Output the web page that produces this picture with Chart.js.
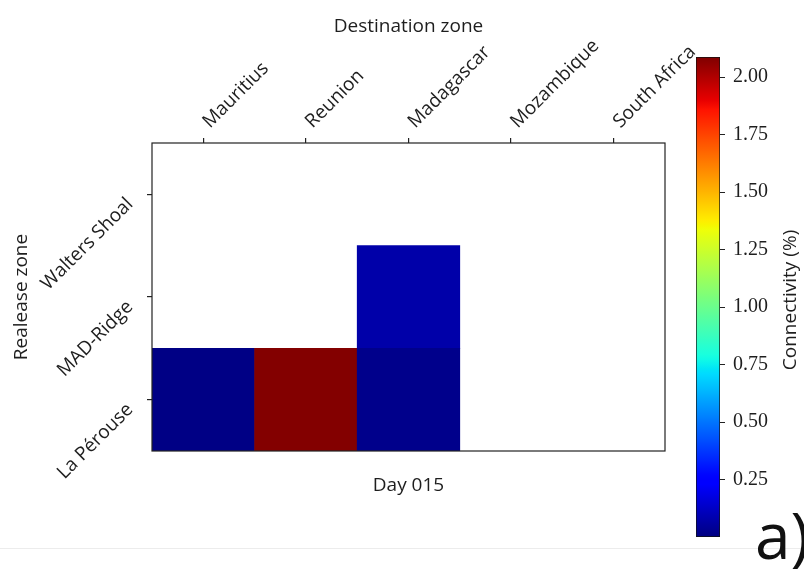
<!DOCTYPE html>
<html>
<head>
<meta charset="utf-8">
<script src="https://cdn.jsdelivr.net/npm/chart.js@4.4.1/dist/chart.umd.min.js"></script>
<style>
  html, body { margin: 0; padding: 0; background: #fff; }
  #wrap { position: relative; width: 804px; height: 569px; overflow: hidden; }
  #wrap canvas { position: absolute; left: 0; top: 0; }
  #rule { position: absolute; left: 0; top: 548px; width: 804px; height: 1px; background: #ececec; }
  #panel { position: absolute; left: 755px; top: 503px; font: 64px/64px 'Open Sans', sans-serif; color: #111; }
</style>
</head>
<body>
<div id="wrap">
  <div id="rule"></div>
  <canvas id="heat" width="804" height="569"></canvas>
  <canvas id="cbar" width="804" height="569"></canvas>
  <div id="panel">a)</div>
</div>
<script>
// destination zones (columns) and release zones (rows, bottom to top)
const destinations = ['Mauritius', 'Reunion', 'Madagascar', 'Mozambique', 'South Africa'];
const releaseZones = ['La Pérouse', 'MAD-Ridge', 'Walters Shoal'];

// connectivity (%) per destination, null = no connection
const laPerouse    = [0.01, 2.08, 0.02, null, null];
const madRidge     = [null, null, 0.075, null, null];
const waltersShoal = [null, null, null, null, null];

const vMax = 2.087;
const cbarTicks = [0.25, 0.5, 0.75, 1.0, 1.25, 1.5, 1.75, 2.0];

const sans = 'Open Sans';
const ink = '#1e1e1e';

// matplotlib "jet" colormap
const jetR = [[0, 0], [0.35, 0], [0.66, 1], [0.89, 1], [1, 0.5]];
const jetG = [[0, 0], [0.125, 0], [0.375, 1], [0.64, 1], [0.91, 0], [1, 0]];
const jetB = [[0, 0.5], [0.11, 1], [0.34, 1], [0.65, 0], [1, 0]];
function seg(pts, t) {
    for (let i = 1; i < pts.length; i++) {
        if (t <= pts[i][0]) {
            const [x0, y0] = pts[i - 1], [x1, y1] = pts[i];
            return y0 + (y1 - y0) * (t - x0) / (x1 - x0);
        }
    }
    return pts[pts.length - 1][1];
}
function jet(t) {
    t = Math.min(1, Math.max(0, t));
    return 'rgb(' + Math.round(255 * seg(jetR, t)) + ',' + Math.round(255 * seg(jetG, t)) + ',' + Math.round(255 * seg(jetB, t)) + ')';
}

const frame = {
    id: 'frame',
    afterDraw(chart) {
        const {ctx, chartArea: a} = chart;
        ctx.save();
        ctx.strokeStyle = '#222';
        ctx.lineWidth = 1.2;
        ctx.strokeRect(a.left, a.top, a.right - a.left, a.bottom - a.top);
        ctx.restore();
    }
};

const rows = [laPerouse, madRidge, waltersShoal];
const datasets = rows.map((vals, r) => ({
    label: releaseZones[r],
    xAxisID: 'x',
    data: vals.map(v => v === null ? null : [r, r + 1]),
    backgroundColor: vals.map(v => v === null ? 'rgba(0,0,0,0)' : jet(v / vMax)),
    borderWidth: 0,
    barPercentage: 1,
    categoryPercentage: 1,
    grouped: false
}));

new Chart(document.getElementById('heat'), {
    type: 'bar',
    data: { labels: destinations, datasets: datasets },
    options: {
        responsive: false,
        animation: false,
        layout: { padding: { left: 8, top: 15, right: 139, bottom: 72 } },
        plugins: { legend: { display: false }, tooltip: { enabled: false } },
        scales: {
            x: {
                type: 'category',
                position: 'top',
                offset: true,
                grid: { offset: false, drawOnChartArea: false, tickLength: 5, color: '#222', lineWidth: 1.2 },
                border: { display: false },
                ticks: { minRotation: 45, maxRotation: 45, autoSkip: false, padding: 5, labelOffset: 19,
                    color: ink, font: { family: sans, size: 19 } },
                title: { display: true, text: 'Destination zone', color: ink, font: { family: sans, size: 19 }, padding: { top: 0, bottom: 0 } },
                afterFit(s) { s.height = 128; }
            },
            x2: {
                type: 'category',
                position: 'bottom',
                grid: { display: false },
                border: { display: false },
                ticks: { display: false },
                title: { display: true, text: 'Day 015', color: ink, font: { family: sans, size: 19 }, padding: { top: 0, bottom: 0 } },
                afterFit(s) { s.height = 46; }
            },
            y: {
                type: 'linear',
                position: 'left',
                min: 0,
                max: 3,
                afterBuildTicks(s) { s.ticks = [0.5, 1.5, 2.5].map(v => ({ value: v })); },
                grid: { drawOnChartArea: false, tickLength: 5, color: '#222', lineWidth: 1.2 },
                border: { display: false },
                ticks: { minRotation: 45, maxRotation: 45, padding: 17, labelOffset: 7, color: ink, font: { family: sans, size: 19 },
                    callback: v => releaseZones[Math.floor(v)] },
                title: { display: true, text: 'Realease zone', color: ink, font: { family: sans, size: 19 }, padding: { top: 2, bottom: 0 } },
                afterFit(s) { s.width = 144; }
            }
        }
    },
    plugins: [frame]
});

const cbarLabel = {
    id: 'cbarLabel',
    afterDraw(chart) {
        const ctx = chart.ctx;
        ctx.save();
        ctx.translate(791, 300);
        ctx.rotate(-Math.PI / 2);
        ctx.textAlign = 'center';
        ctx.textBaseline = 'middle';
        ctx.fillStyle = ink;
        ctx.font = '19px "Open Sans"';
        ctx.fillText('Connectivity (%)', 0, 0);
        ctx.restore();
    }
};

new Chart(document.getElementById('cbar'), {
    type: 'bar',
    data: {
        labels: [''],
        datasets: [{
            data: [[0, vMax]],
            backgroundColor(c) {
                const ch = c.chart;
                if (!ch.chartArea) return null;
                const ys = ch.scales.y;
                const g = ch.ctx.createLinearGradient(0, ys.getPixelForValue(0), 0, ys.getPixelForValue(vMax));
                for (let i = 0; i <= 100; i++) g.addColorStop(i / 100, jet(i / 100));
                return g;
            },
            borderColor: '#111',
            borderWidth: 1,
            borderSkipped: false,
            barPercentage: 1,
            categoryPercentage: 1
        }]
    },
    options: {
        responsive: false,
        animation: false,
        layout: { padding: { left: 696, top: 57, right: 24, bottom: 32 } },
        plugins: { legend: { display: false }, tooltip: { enabled: false } },
        scales: {
            x: { display: false },
            y: {
                position: 'right',
                min: 0,
                max: vMax,
                afterBuildTicks(s) { s.ticks = cbarTicks.map(v => ({ value: v })); },
                grid: { drawOnChartArea: false, tickLength: 5, color: '#222' },
                border: { display: false },
                ticks: { padding: 8, color: ink, font: { family: 'Liberation Serif', size: 20 }, callback: v => v.toFixed(2) },
                afterFit(s) { s.width = 60; }
            }
        }
    },
    plugins: [cbarLabel]
});
</script>
</body>
</html>
